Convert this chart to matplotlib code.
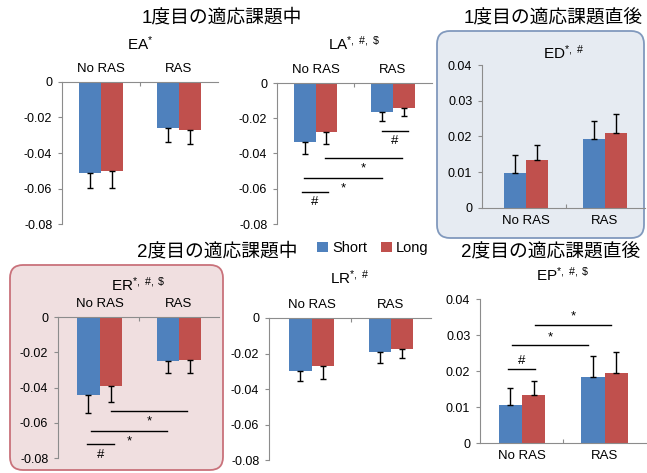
import matplotlib
matplotlib.use("Agg")
import matplotlib.pyplot as plt
from matplotlib.patches import FancyBboxPatch
import numpy as np

plt.rcParams['font.family'] = ['Liberation Sans', 'Noto Sans CJK JP', 'DejaVu Sans']
plt.rcParams['mathtext.fontset'] = 'custom'
plt.rcParams['mathtext.rm'] = 'Liberation Sans'
plt.rcParams['mathtext.it'] = 'Liberation Sans'
plt.rcParams['mathtext.bf'] = 'Liberation Sans'

# ---- DATA ----
groups = ["No RAS", "RAS"]
series = ["Short", "Long"]

ea_short = [-0.0513, -0.0259]
ea_long = [-0.0500, -0.0270]
ea_short_err = [0.0083, 0.0080]
ea_long_err = [0.0095, 0.0078]

la_short = [-0.0333, -0.0166]
la_long = [-0.0279, -0.0141]
la_short_err = [0.0070, 0.0050]
la_long_err = [0.0067, 0.0046]

ed_short = [0.0099, 0.0194]
ed_long = [0.0133, 0.0211]
ed_short_err = [0.0048, 0.0050]
ed_long_err = [0.0042, 0.0051]

er_short = [-0.0443, -0.0252]
er_long = [-0.0390, -0.0245]
er_short_err = [0.0103, 0.0066]
er_long_err = [0.0090, 0.0073]

lr_short = [-0.0298, -0.0189]
lr_long = [-0.0270, -0.0174]
lr_short_err = [0.0057, 0.0066]
lr_long_err = [0.0073, 0.0052]

ep_short = [0.0105, 0.0184]
ep_long = [0.0132, 0.0195]
ep_short_err = [0.0047, 0.0059]
ep_long_err = [0.0041, 0.0058]

# significance brackets: (x0, x1, y, mark)
la_sig = [(0.86, 1.19, -0.0270, "#"), (0.12, 1.12, -0.0426, "*"),
          (-0.15, 0.86, -0.0540, "*"), (-0.17, 0.16, -0.0617, "#")]
er_sig = [(0.145, 1.10, -0.0536, "*"), (-0.107, 0.85, -0.0649, "*"),
          (-0.157, 0.18, -0.0723, "#")]
ep_sig = [(-0.17, 0.16, 0.0206, "#"), (-0.12, 0.80, 0.0272, "*"),
          (0.16, 1.08, 0.0328, "*")]

blue = "#4F81BD"
red = "#C0504D"
grey = "#8C8C8C"

W, H = 647, 473
fig = plt.figure(figsize=(W / 100, H / 100), dpi=100)

# ---- BACKGROUND BOXES (pixel -> inches) ----
def box(x0, y0, x1, y1, fc, ec):
    p = FancyBboxPatch((x0 / 100, (H - y1) / 100), (x1 - x0) / 100, (y1 - y0) / 100,
                       boxstyle="round,pad=0,rounding_size=0.13",
                       transform=fig.dpi_scale_trans, fc=fc, ec=ec, lw=1.3, zorder=-5)
    fig.patches.append(p)

box(437, 31, 644, 238, "#e6ebf2", "#8199bd")
box(10, 265, 223, 470, "#f0dfe0", "#c9727b")


def panel(px_left, px_c0, px_c1, py_top, py_bot, ylim, short, long_, s_err, l_err,
          title, title_y, neg, sig=None):
    sp = px_c1 - px_c0
    x_lo = -(px_c0 - px_left) / sp
    x_hi = 1.5
    px_right = px_c1 + 0.5 * sp
    ax = fig.add_axes([px_left / W, 1 - py_bot / H, (px_right - px_left) / W,
                       (py_bot - py_top) / H])
    ax.set_facecolor("none")
    x = np.arange(len(groups))
    w = 0.28
    if neg:
        se = [s_err, [0] * len(s_err)]
        le = [l_err, [0] * len(l_err)]
    else:
        se = [[0] * len(s_err), s_err]
        le = [[0] * len(l_err), l_err]
    ax.bar(x - w / 2, short, w, color=blue, yerr=se, capsize=2.5,
           error_kw=dict(elinewidth=1, capthick=1, ecolor="black"), label=series[0], zorder=2)
    ax.bar(x + w / 2, long_, w, color=red, yerr=le, capsize=2.5,
           error_kw=dict(elinewidth=1, capthick=1, ecolor="black"), label=series[1], zorder=2)
    ax.set_xlim(x_lo, x_hi)
    ax.set_ylim(ylim)
    lo, hi = ylim
    ax.set_yticks(np.round(np.arange(lo, hi + 1e-9, 0.02 if neg else 0.01), 3))
    ax.yaxis.set_major_formatter(plt.FuncFormatter(lambda v, p: "0" if abs(v) < 1e-9 else f"{v:g}"))
    ax.spines["right"].set_visible(False)
    if neg:
        ax.spines["bottom"].set_visible(False)
        ax.spines["top"].set_color(grey)
        ax.xaxis.set_ticks_position("top")
    else:
        ax.spines["top"].set_visible(False)
        ax.spines["bottom"].set_color(grey)
    ax.spines["left"].set_color(grey)
    ax.set_xticks([0.5])
    ax.set_xticklabels([""])
    ax.tick_params(axis="x", direction="in", length=3, color=grey)
    ax.tick_params(axis="y", length=3, color=grey, labelsize=9, pad=4)
    for i, g in enumerate(groups):
        ax.annotate(g, (x[i], 1 if neg else 0), xycoords=("data", "axes fraction"),
                    xytext=(0, 5 if neg else -5), textcoords="offset points",
                    ha="center", va="bottom" if neg else "top", fontsize=9.5)
    fig.text((px_left + px_right) / 2 / W, 1 - title_y / H, title, ha="center",
             va="center", fontsize=11)
    if sig:
        for x0, x1, yv, m in sig:
            ax.plot([x0, x1], [yv, yv], color="black", lw=1, clip_on=False, zorder=3)
            if neg:
                ax.annotate(m, ((x0 + x1) / 2, yv), xytext=(0, -3), textcoords="offset points",
                            ha="center", va="top", fontsize=9.5)
            else:
                ax.annotate(m, ((x0 + x1) / 2, yv), xytext=(0, 1.5), textcoords="offset points",
                            ha="center", va="bottom", fontsize=9.5)
    return ax


panel(62, 101, 179, 82, 224, (-0.08, 0), ea_short, ea_long, ea_short_err, ea_long_err,
      r"EA$^{*}$", 44, True)
panel(277, 315.5, 393, 83, 224, (-0.08, 0), la_short, la_long, la_short_err, la_long_err,
      r"LA$^{*,\ \#,\ \$}$", 44, True, la_sig)
panel(482, 526, 605, 65, 208, (0, 0.04), ed_short, ed_long, ed_short_err, ed_long_err,
      r"ED$^{*,\ \#}$", 53, False)
panel(58, 99.5, 179, 317, 458, (-0.08, 0), er_short, er_long, er_short_err, er_long_err,
      r"ER$^{*,\ \#,\ \$}$", 285, True, er_sig)
lr_ax = panel(269, 311.5, 391, 318, 460, (-0.08, 0), lr_short, lr_long, lr_short_err,
              lr_long_err, r"LR$^{*,\ \#}$", 278, True)
panel(480, 522, 604.5, 299, 443, (0, 0.04), ep_short, ep_long, ep_short_err, ep_long_err,
      r"EP$^{*,\ \#,\ \$}$", 275, False, ep_sig)

# ---- SECTION TITLES ----
fig.text(222 / W, 1 - 18 / H, "1度目の適応課題中", ha="center", va="center", fontsize=13.5)
fig.text(553 / W, 1 - 19 / H, "1度目の適応課題直後", ha="center", va="center", fontsize=13.5)
fig.text(217 / W, 1 - 252 / H, "2度目の適応課題中", ha="center", va="center", fontsize=13.5)
fig.text(551 / W, 1 - 253 / H, "2度目の適応課題直後", ha="center", va="center", fontsize=13.5)

# ---- LEGEND ----
handles, labels = lr_ax.get_legend_handles_labels()
fig.legend(handles, labels, loc="center", bbox_to_anchor=(373 / W, 1 - 248 / H), ncol=2,
           frameon=False, fontsize=10.5, handlelength=0.7, handleheight=0.7,
           handletextpad=0.3, columnspacing=1.0)

fig.savefig("out.png", dpi=100)
